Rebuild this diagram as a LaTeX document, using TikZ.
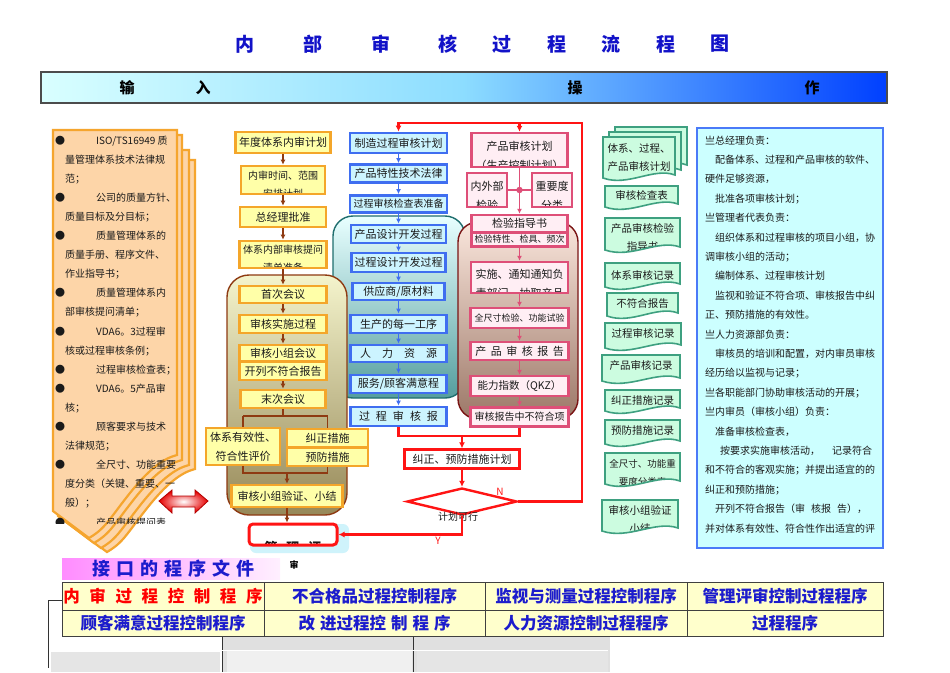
\documentclass[tikz,border=0pt]{standalone}
\usepackage{fontspec}
\setmainfont{Noto Sans CJK SC}
\usetikzlibrary{arrows.meta,shapes.geometric,calc}
\newcommand\fz[2]{\fontsize{#1}{#2}\selectfont}
\newcommand\lbul{\makebox[41pt][l]{●}}
\newcommand\lnb{\hspace*{10pt}}
\definecolor{txt}{HTML}{1A1A1A}
\definecolor{obord}{HTML}{F4A62A}
\definecolor{ofill}{HTML}{FFFFA8}
\definecolor{brn}{HTML}{8E3A12}
\definecolor{oltop}{HTML}{F4F4CC}
\definecolor{olbot}{HTML}{968858}
\definecolor{bbord}{HTML}{3F6EF0}
\definecolor{bfill}{HTML}{CCF4FF}
\definecolor{tltop}{HTML}{E8FFFF}
\definecolor{tlbot}{HTML}{559E9E}
\definecolor{tlbord}{HTML}{1F6E6E}
\definecolor{pbord}{HTML}{DE4F78}
\definecolor{pfill}{HTML}{FFEEF4}
\definecolor{pktop}{HTML}{FAE6DC}
\definecolor{pkbot}{HTML}{9C7868}
\definecolor{pkbord}{HTML}{7A1414}
\definecolor{rl}{HTML}{FF1414}
\definecolor{gbord}{HTML}{3EA080}
\definecolor{gfill}{HTML}{CCFCE0}
\definecolor{lsf}{HTML}{FDD5A8}
\definecolor{lsb}{HTML}{F5A52E}
\definecolor{rbfill}{HTML}{CCFFFF}
\definecolor{rbbord}{HTML}{4A7AF8}
\definecolor{ttl}{HTML}{1212C8}
\definecolor{tbl}{HTML}{1C1CCC}
\definecolor{tfill}{HTML}{FFFFCC}
\definecolor{glow}{HTML}{CFF3FB}
\tikzset{
 obox/.style={draw=obord, fill=ofill, line width=2.6pt, inner sep=0pt, text=txt, font=\fz{11}{13}},
 bbox/.style={draw=bbord, fill=bfill, line width=2.8pt, inner sep=0pt, text=txt, font=\fz{11}{13}},
 pbox/.style={draw=pbord, fill=pfill, line width=2.4pt, inner sep=0pt, text=txt, font=\fz{11}{13}},
 sz/.style 2 args={minimum width=#1pt, minimum height=#2pt},
 cuttxt/.style n args={4}{path picture={\node[anchor=north, align=center, inner sep=0pt, font=\fz{#3}{#4}, text=txt] at ([yshift=-#1pt]path picture bounding box.north) {#2};}},
 barrow/.style={draw=brn, line width=1.8pt, -{Latex[length=5pt,width=5pt]}},
 bline/.style={draw=brn, line width=1.8pt},
 blarrow/.style={draw=bbord, line width=1.8pt, -{Latex[length=5pt,width=5pt]}},
 parrow/.style={draw=pbord, line width=1.8pt, -{Latex[length=5pt,width=5pt]}},
 pline/.style={draw=pbord, line width=1.8pt},
 rline/.style={draw=rl, line width=2.4pt},
 rarrow/.style={draw=rl, line width=2.4pt, -{Latex[length=6pt,width=6pt]}},
 lsh/.style={draw=lsb, fill=lsf, line width=2.2pt},
 cell/.style={draw=black!75, fill=tfill, line width=0.8pt, inner sep=0pt, text=tbl, font=\fz{16.5}{18}\bfseries},
 gdocsty/.style={draw=gbord, fill=gfill, line width=1.6pt},
}
\newcommand\gdoc[8]{%
\path[gdocsty, path picture={\node[anchor=north, align=center, inner sep=0pt, text=txt, font=\fz{#7}{18}] (#1) at ([yshift=-#6pt]path picture bounding box.north) {#8};}]
 (#2,#3) -- (#4,#3) -- (#4,{#5-3}) .. controls ({#4-(#4-#2)*0.3},{#5-11}) and ({#2+(#4-#2)*0.35},{#5+9}) .. (#2,#5) -- cycle;}
\newcommand\gdocb[4]{%
\path[gdocsty] (#1,#2) -- (#3,#2) -- (#3,{#4-3}) .. controls ({#3-(#3-#1)*0.3},{#4-11}) and ({#1+(#3-#1)*0.35},{#4+9}) .. (#1,#4) -- cycle;}
% left sheet: dx, top offset, bottom offset
\newcommand\lsheet[3]{%
\path[lsh] ({53+#1},{130+#2}) -- ({177+#1},{130+#2}) -- ({177+#1},{455+#3}) .. controls ({148+#1},{462+#3}) and ({122+#1},{505+#3}) .. ({106+#1},{524+#3}) .. controls ({99+#1},{532+#3}) and ({94+#1},{535+#3}) .. ({89+#1},{538+#3}) -- ({53+#1},{511+#3}) -- cycle;}
\begin{document}
\begin{tikzpicture}[x=1pt,y=-1pt]
\useasboundingbox (0,0) rectangle (950,672);
\fill[white] (0,0) rectangle (950,672);
% title
\begin{scope}[every node/.style={text=ttl, font=\fz{19}{20}\bfseries}]
\node (t1) at (245,44) {内};
\node (t2) at (313,44) {部};
\node (t3) at (381,44) {审};
\node (t4) at (448,44) {核};
\node (t5) at (502,44) {过};
\node (t6) at (557,44) {程};
\node (t7) at (611,44) {流};
\node (t8) at (666,44) {程};
\node (t9) at (720,44) {图};
\end{scope}
% header bar
\node[draw=black!70, line width=1.2pt, left color=cyan!15, right color=blue!75!cyan, middle color=blue!30!cyan!45, sz={846}{31}, inner sep=0pt] (hb) at (464,87.5) {};
\begin{scope}[every node/.style={text=black, font=\fz{15}{16}\bfseries}]
\node (h1) at (127,88) {输};
\node (h2) at (203,88) {入};
\node (h3) at (575,88) {操};
\node (h4) at (812,88) {作};
\end{scope}
% left input stack
\lsheet{18}{30}{14}
\lsheet{12}{20}{10}
\lsheet{5}{5}{5}
\lsheet{0}{0}{0}
\node[anchor=north west, align=left, inner sep=0pt, font=\fz{10}{19.1}, text=txt] (intxt) at (55,135.5) {%
\lbul ISO/TS16949 质\\
\lnb 量管理体系技术法律规\\
\lnb 范；\\
\lbul 公司的质量方针、\\
\lnb 质量目标及分目标；\\
\lbul 质量管理体系的\\
\lnb 质量手册、程序文件、\\
\lnb 作业指导书；\\
\lbul 质量管理体系内\\
\lnb 部审核提问清单；\\
\lbul VDA6。3过程审\\
\lnb 核或过程审核条例；\\
\lbul 过程审核检查表；\\
\lbul VDA6。5产品审\\
\lnb 核；\\
\lbul 顾客要求与技术\\
\lnb 法律规范；\\
\lbul 全尺寸、功能重要\\
\lnb 度分类（关键、重要、一\\
\lnb 般）；};
\begin{scope}
\clip (50,500) rectangle (190,523.5);
\node[anchor=north west, inner sep=0pt, font=\fz{10}{12}, text=txt] (inlast) at (55,517.5) {\lbul 产品审核提问表};
\end{scope}
% red double arrow
\path[draw=red!70!black, line width=0.8pt, inner color=white, outer color=red!90!black]
 (159,501) -- (172,490) -- (172,496) -- (195,496) -- (195,490) -- (208,501) -- (195,513) -- (195,507) -- (172,507) -- (172,513) -- cycle;
% big group boxes
\node[draw=tlbord, line width=1.4pt, rounded corners=20pt, top color=tltop, bottom color=tlbot, sz={132}{182}, inner sep=0pt] (tb) at (399,307) {};
\node[draw=pkbord, line width=1.4pt, rounded corners=20pt, top color=pktop, bottom color=pkbot, sz={120}{197}, inner sep=0pt] (pb) at (518,320.5) {};
\node[draw=brn, line width=1.4pt, rounded corners=22pt, top color=oltop, bottom color=olbot, sz={120}{240}, inner sep=0pt] (og) at (287,395) {};
% orange column
\node[obox, sz={95}{21}] (o1) at (283,142.5) {年度体系内审计划};
\node[obox, sz={84}{28}, cuttxt={3}{内审时间、范围\\安排计划}{10}{18}] (o2) at (283,180) {};
\node[obox, sz={86}{20}] (o3) at (283,217) {总经理批准};
\node[obox, sz={87}{27}, cuttxt={2.5}{体系内部审核提问\\清单准备}{10}{18}] (o4) at (283,254.5) {};
\node[obox, sz={87}{17}] (o5) at (283,294.5) {首次会议};
\node[obox, sz={87}{18}] (o6) at (283,324) {审核实施过程};
\node[obox, sz={87}{16}] (o7a) at (283,353) {审核小组会议};
\node[obox, sz={87}{18}] (o7b) at (283,371) {开列不符合报告};
\node[obox, sz={85}{18}] (o8) at (283,399) {末次会议};
\node[obox, sz={74}{37}, align=center, font=\fz{11}{19}] (o9) at (243,446.5) {体系有效性、\\符合性评价};
\node[obox, sz={81}{18}] (o10) at (327.5,438) {纠正措施};
\node[obox, sz={81}{18}] (o11) at (327.5,457) {预防措施};
\node[obox, sz={111}{22}] (o12) at (287,496) {审核小组验证、小结};
\node[fill=glow, rounded corners=6pt, sz={99}{29}, inner sep=0pt] (mglow) at (299.5,538.5) {};
\node[draw=rl, line width=3pt, fill=white, rounded corners=4pt, sz={88}{21}, inner sep=0pt, cuttxt={11}{\bfseries 管\hspace{9pt}理\hspace{9pt}评}{13}{15}] (mgmt) at (293,534.5) {};
\node[font=\fz{9}{10}\bfseries, text=black, inner sep=0pt] (shen) at (294,565) {审};
\draw[barrow] (o1.south) -- (o2.north);
\draw[barrow] (o2.south) -- (o3.north);
\draw[barrow] (o3.south) -- (o4.north);
\draw[barrow] (o4.south) -- (o5.north);
\draw[barrow] (o5.south) -- (o6.north);
\draw[barrow] (o6.south) -- (o7a.north);
\draw[barrow] (o7b.south) -- (o8.north);
\coordinate (bj1) at (283,416);
\draw[bline] (o8.south) -- (bj1);
\draw[bline] (o9.north |- bj1) -- (o10.north |- bj1);
\draw[bline] (o9.north |- bj1) -- (o9.north);
\draw[bline] (o10.north |- bj1) -- (o10.north);
\coordinate (bj2) at (287,473);
\draw[bline] (o9.south) -- (o9.south |- bj2) -- (o11.south |- bj2) -- (o11.south);
\draw[barrow] (bj2) -- (o12.north);
\draw[barrow] (o12.south) -- (o12.south |- mgmt.north);
% blue column
\node[bbox, sz={97}{20}] (b1) at (398.5,143) {制造过程审核计划};
\node[bbox, sz={97}{18}] (b2) at (398.5,173.5) {产品特性技术法律};
\node[bbox, sz={97}{17}, font=\fz{10}{12}] (b3) at (398.5,204) {过程审核检查表准备};
\node[bbox, sz={95}{18}] (b4) at (398.5,234) {产品设计开发过程};
\node[bbox, sz={94}{19}] (b5) at (398.5,262.5) {过程设计开发过程};
\node[bbox, sz={92}{17}] (b6) at (398.5,291.5) {供应商/原材料};
\node[bbox, sz={96}{18}] (b7) at (398.5,324) {生产的每一工序};
\node[bbox, sz={96}{17}] (b8) at (398.5,353.5) {人\hspace{11pt}力\hspace{11pt}资\hspace{11pt}源};
\node[bbox, sz={96}{18}] (b9) at (398.5,384) {服务/顾客满意程};
\node[bbox, sz={96}{19}] (b10) at (398.5,416.5) {过\hspace{6pt}程\hspace{6pt}审\hspace{6pt}核\hspace{6pt}报};
\draw[blarrow] (b1.south) -- (b2.north);
\draw[blarrow] (b2.south) -- (b3.north);
\draw[blarrow] (b3.south) -- (b4.north);
\draw[blarrow] (b4.south) -- (b5.north);
\draw[blarrow] (b5.south) -- (b6.north);
\draw[blarrow] (b6.south) -- (b7.north);
\draw[blarrow] (b7.south) -- (b8.north);
\draw[blarrow] (b8.south) -- (b9.north);
\draw[blarrow] (b9.south) -- (b10.north);
% pink column
\node[pbox, sz={96}{34}, cuttxt={4.5}{产品审核计划\\（生产控制计划）}{11}{19}] (p1) at (519.5,150) {};
\node[pbox, sz={40}{34}, cuttxt={5}{内外部\\检验}{11}{19}] (p2) at (487,190) {};
\node[pbox, sz={40}{34}, cuttxt={5}{重要度\\分类}{11}{19}] (p3) at (552,190) {};
\node[pbox, sz={96}{17}] (p4) at (519.5,223.5) {检验指导书};
\node[pbox, sz={96}{14}, font=\fz{9}{10}] (p5) at (519.5,239.5) {检验特性、检具、频次};
\node[pbox, sz={97}{31}, cuttxt={5}{实施、通知通知负\\责部门、抽取产品}{11}{19}] (p6) at (519.5,277.5) {};
\node[pbox, sz={98}{20}, font=\fz{9}{10}] (p7) at (519.5,318) {全尺寸检验、功能试验};
\node[pbox, sz={98}{18}] (p8) at (519.5,351) {产\hspace{4.5pt}品\hspace{4.5pt}审\hspace{4.5pt}核\hspace{4.5pt}报\hspace{4.5pt}告};
\node[pbox, sz={98}{20}, font=\fz{10.5}{12}] (p9) at (519.5,386) {能力指数（QKZ）};
\node[pbox, sz={98}{19}, font=\fz{10}{12}] (p10) at (519.5,417) {审核报告中不符合项};
\draw[pline] (p2.east) -- (p3.west);
\draw[parrow] (p1.south) -- (p4.north);
\fill[pbord] (p1.south |- p2.east) circle (3.2pt);
\draw[parrow] (p5.south) -- (p6.north);
\draw[parrow] (p6.south) -- (p7.north);
\draw[parrow] (p7.south) -- (p8.north);
\draw[parrow] (p8.south) -- (p9.north);
\draw[parrow] (p9.south) -- (p10.north);
% red loop
\node[draw=rl, line width=2.4pt, fill=white, sz={115}{19}, inner sep=0pt, font=\fz{11}{13}, text=txt] (r1) at (462,459) {纠正、预防措施计划};
\node[diamond, draw=rl, line width=2.4pt, fill=white, minimum width=110pt, minimum height=27pt, inner sep=0pt] (dia) at (462,501.5) {};
\node[font=\fz{10}{12}, text=txt, inner sep=0pt] (dtxt) at (458,517) {计划可行};
\coordinate (rj) at (462,436);
\draw[rline] (b10.south) |- (rj) -| (p10.south);
\draw[rarrow] (rj) -- (r1.north);
\draw[rarrow] (r1.south) -- (dia.north);
\coordinate (cR) at (582,123);
\draw[rarrow] (dia.east) -| (cR) -| (b1.north);
\draw[rarrow] (p1.north |- cR) -- (p1.north);
\draw[rarrow] (dia.south) |- (mgmt.east);
\node[text=rl, font=\fz{10}{12}, inner sep=0pt] (nlab) at (500,492) {N};
\node[text=rl, font=\fz{10}{12}, inner sep=0pt] (ylab) at (438,541) {Y};
% green record documents
\gdocb{615}{127}{687}{168}
\gdocb{609}{132}{681}{173}
\gdoc{g1}{603}{137}{675}{178}{6}{10.5}{体系、过程、\\产品审核计划}
\gdoc{g2}{605}{186}{678}{207}{4}{10.5}{审核检查表}
\gdoc{g3}{605}{218}{680}{250}{5}{10.5}{产品审核检验\\指导书}
\gdoc{g4}{605}{263}{680}{287}{7}{10.5}{体系审核记录}
\gdoc{g5}{607}{293}{678}{316}{5}{10.5}{不符合报告}
\gdoc{g6}{605}{323}{681}{348}{5}{10.5}{过程审核记录}
\gdoc{g7}{602}{355}{680}{381}{5}{10.5}{产品审核记录}
\gdoc{g8}{605}{390}{680}{411}{5}{10.5}{纠正措施记录}
\gdoc{g9}{605}{420}{680}{444}{5}{10.5}{预防措施记录}
\gdoc{g10}{605}{453}{680}{484}{5.5}{9.5}{全尺寸、功能重\\要度分类表}
\gdoc{g11}{602}{500}{678}{531}{5}{10.5}{审核小组验证\\小结}
% right responsibilities box
\node[draw=rbbord, fill=rbfill, line width=2.8pt, sz={186}{420}, inner sep=0pt] (rb) at (790,338) {};
\node[anchor=north west, align=left, inner sep=0pt, font=\fz{10}{19.4}, text=txt] (rtxt) at (705,135.5) {%
亗总经理负责：\\
\hspace*{10pt}配备体系、过程和产品审核的软件、\\
硬件足够资源，\\
\hspace*{10pt}批准各项审核计划；\\
亗管理者代表负责：\\
\hspace*{10pt}组织体系和过程审核的项目小组，协\\
调审核小组的活动；\\
\hspace*{10pt}编制体系、过程审核计划\\
\hspace*{10pt}监视和验证不符合项、审核报告中纠\\
正、预防措施的有效性。\\
亗人力资源部负责：\\
\hspace*{10pt}审核员的培训和配置，对内审员审核\\
经历给以监视与记录；\\
亗各职能部门协助审核活动的开展；\\
亗内审员（审核小组）负责：\\
\hspace*{10pt}准备审核检查表，\\
\hspace*{15pt}按要求实施审核活动，\hspace{12pt}记录符合\\
和不符合的客观实施；并提出适宜的的\\
纠正和预防措施；\\
\hspace*{10pt}开列不符合报告（审\hspace{6pt}核报\hspace{6pt}告），\\
并对体系有效性、符合性作出适宜的评};
% background grey remnants
\fill[black!12] (222,637) rectangle (610,672);
\fill[black!6] (227,650) rectangle (412,672);
\fill[black!10] (417,651) rectangle (608,672);
\fill[black!10] (51,652) rectangle (220,672);
\draw[black!80, line width=0.8pt] (62,600) -- (48,600) -- (48,668);
\draw[black!80, line width=0.8pt] (222,637) -- (222,672);
\draw[black!80, line width=0.8pt] (413,637) -- (413,672);
\draw[white, line width=1pt] (222,650) -- (608,650);
% interface label
\node[left color=magenta!45, right color=magenta!6, sz={218}{21}, inner sep=0pt] (jkbg) at (171,568.5) {};
\node[text=tbl, font=\fz{18}{20}\bfseries, inner sep=0pt] (jk) at (173.5,568.5) {接\hspace{6pt}口\hspace{6pt}的\hspace{6pt}程\hspace{6pt}序\hspace{6pt}文\hspace{6pt}件};
% procedure table
\node[cell, sz={202}{28}, text=red] (c11) at (163,596) {内\hspace{9.6pt}审\hspace{9.6pt}过\hspace{9.6pt}程\hspace{9.6pt}控\hspace{9.6pt}制\hspace{9.6pt}程\hspace{9.6pt}序};
\node[cell, sz={221}{28}] (c12) at (374.5,596) {不合格品过程控制程序};
\node[cell, sz={202}{28}] (c13) at (586,596) {监视与测量过程控制程序};
\node[cell, sz={196}{28}] (c14) at (785,596) {管理评审控制过程程序};
\node[cell, sz={202}{26}] (c21) at (163,623) {顾客满意过程控制程序};
\node[cell, sz={221}{26}] (c22) at (374.5,623) {改\hspace{5pt}进过程控\hspace{5pt}制\hspace{5pt}程\hspace{5pt}序};
\node[cell, sz={202}{26}] (c23) at (586,623) {人力资源控制过程程序};
\node[cell, sz={196}{26}] (c24) at (785,623) {过程程序};
\end{tikzpicture}
\end{document}
